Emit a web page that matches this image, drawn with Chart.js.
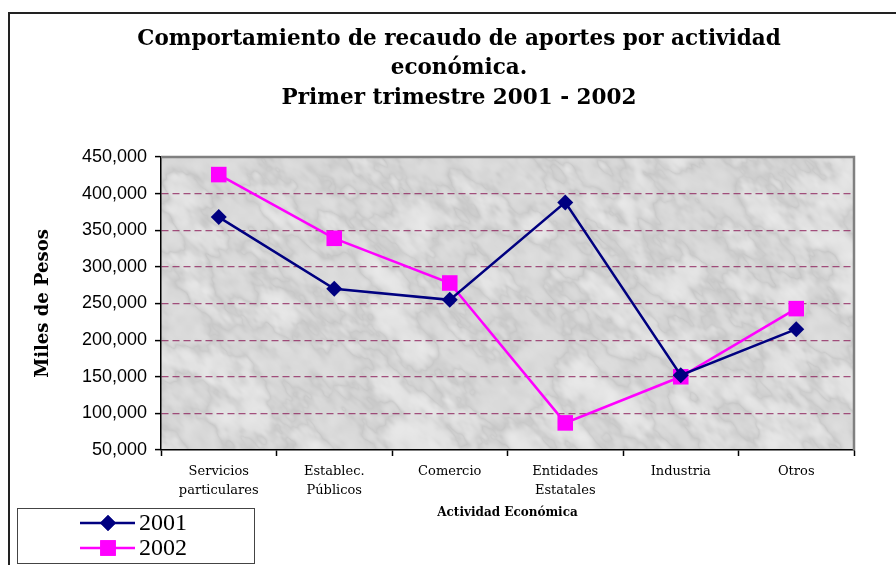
<!DOCTYPE html>
<html>
<head>
<meta charset="utf-8">
<script src="https://cdn.jsdelivr.net/npm/chart.js@4.4.1/dist/chart.umd.min.js"></script>
<style>
  html, body { margin: 0; padding: 0; background: #fff; }
  #wrap { width: 896px; height: 565px; position: relative; }
</style>
</head>
<body>
<div id="wrap"><canvas id="recaudoChart" width="896" height="565"></canvas></div>
<script>
// Datos (miles de pesos)
const actividades = [
  ['Servicios', 'particulares'],
  ['Establec.', 'Públicos'],
  'Comercio',
  ['Entidades', 'Estatales'],
  'Industria',
  'Otros'
];
const recaudo2001 = [368000, 270000, 255000, 388000, 152000, 215000];
const recaudo2002 = [426000, 339000, 278000, 87000, 150000, 243000];
const yMin = 50000;
const yMax = 450000;
const yStep = 50000;

const tituloLineas = [
  'Comportamiento de recaudo de aportes por actividad',
  'económica.',
  'Primer trimestre 2001 - 2002'
];

const ctx = document.getElementById('recaudoChart').getContext('2d');

// textura gris tipo marmol para el area de trazado (solo decorativa, ruido por hash fijo)
function hash(ix, iy) {
  let n = ix * 374761393 + iy * 668265263;
  n = (n ^ (n >>> 13)) * 1274126177;
  n = n ^ (n >>> 16);
  return ((n >>> 0) % 1000) / 1000;
}
function vnoise(x, y) {
  const ix = Math.floor(x), iy = Math.floor(y);
  const fx = x - ix, fy = y - iy;
  const sx = fx * fx * (3 - 2 * fx), sy = fy * fy * (3 - 2 * fy);
  const a = hash(ix, iy), b = hash(ix + 1, iy), c = hash(ix, iy + 1), d = hash(ix + 1, iy + 1);
  return a + (b - a) * sx + (c - a) * sy + (a - b - c + d) * sx * sy;
}
function makeMarble(w, h) {
  const c = document.createElement('canvas');
  c.width = w; c.height = h;
  const g = c.getContext('2d');
  const img = g.createImageData(w, h);
  for (let y = 0; y < h; y++) {
    for (let x = 0; x < w; x++) {
      // coordenadas estiradas en diagonal
      const u = (x + y) * 0.7, v = (x - y) * 1.3;
      let n = 0, amp = 1, f = 1 / 45, tot = 0;
      for (let o = 0; o < 4; o++) {
        n += amp * vnoise(u * f, v * f);
        tot += amp; amp *= 0.55; f *= 2;
      }
      n /= tot;
      const m = vnoise(x / 9 + 50, y / 9 + 50);
      const vein = Math.pow(1 - Math.abs(n - 0.5) * 2, 4);
      let val = 234 - 40 * Math.max(0, 0.5 - n) - 28 * vein - 8 * m;
      val = Math.max(165, Math.min(246, val));
      const i = (y * w + x) * 4;
      img.data[i] = val; img.data[i + 1] = val; img.data[i + 2] = val; img.data[i + 3] = 255;
    }
  }
  g.putImageData(img, 0, 0);
  return c;
}
let marble = null;

const fondoPlugin = {
  id: 'fondo',
  beforeDraw(chart) {
    const { ctx, chartArea: a } = chart;
    ctx.save();
    ctx.fillStyle = '#fff';
    ctx.fillRect(0, 0, chart.width, chart.height);
    // marco exterior del grafico
    ctx.strokeStyle = '#222';
    ctx.lineWidth = 2;
    ctx.beginPath();
    ctx.moveTo(9, 565);
    ctx.lineTo(9, 13);
    ctx.lineTo(896, 13);
    ctx.stroke();
    const w = Math.round(a.right - a.left), h = Math.round(a.bottom - a.top);
    if (!marble || marble.width !== w || marble.height !== h) marble = makeMarble(w, h);
    ctx.drawImage(marble, a.left, a.top);
    ctx.restore();
  },
  beforeDatasetsDraw(chart) {
    const { ctx, chartArea: a } = chart;
    ctx.save();
    ctx.strokeStyle = '#808080';
    ctx.lineWidth = 2.5;
    ctx.beginPath();
    ctx.moveTo(a.left, a.top);
    ctx.lineTo(a.right, a.top);
    ctx.lineTo(a.right, a.bottom);
    ctx.stroke();
    ctx.restore();
  },
  afterDraw(chart) {
    const { ctx } = chart;
    ctx.save();
    // titulo
    ctx.fillStyle = '#000';
    ctx.font = 'bold 21.5px "DejaVu Serif"';
    ctx.textAlign = 'center';
    ctx.textBaseline = 'middle';
    tituloLineas.forEach((t, i) => ctx.fillText(t, 459, 39 + i * 29.5));

    // leyenda
    ctx.strokeStyle = '#444';
    ctx.lineWidth = 1;
    ctx.strokeRect(17.5, 508.5, 237, 55);
    chart.data.datasets.forEach((ds, i) => {
      const y = 523 + i * 25;
      ctx.strokeStyle = ds.borderColor;
      ctx.lineWidth = ds.borderWidth;
      ctx.beginPath();
      ctx.moveTo(80, y);
      ctx.lineTo(135, y);
      ctx.stroke();
      ctx.fillStyle = ds.pointBackgroundColor;
      Chart.helpers.drawPoint(ctx, {
        pointStyle: ds.pointStyle,
        radius: ds.pointRadius,
        borderWidth: 0,
        rotation: 0
      }, 108, y);
      ctx.fill();
      ctx.fillStyle = '#000';
      ctx.font = '24px "Liberation Serif"';
      ctx.textAlign = 'left';
      ctx.fillText(ds.label, 139, y + 1);
    });
    ctx.restore();
  }
};

const chart = new Chart(ctx, {
  type: 'line',
  data: {
    labels: actividades,
    datasets: [{
      label: '2001',
      data: recaudo2001,
      borderColor: '#000080',
      backgroundColor: '#000080',
      pointBackgroundColor: '#000080',
      pointBorderColor: '#000080',
      borderWidth: 2.5,
      pointStyle: 'rectRot',
      pointRadius: 8,
      pointBorderWidth: 0,
      tension: 0
    }, {
      label: '2002',
      data: recaudo2002,
      borderColor: '#ff00ff',
      backgroundColor: '#ff00ff',
      pointBackgroundColor: '#ff00ff',
      pointBorderColor: '#ff00ff',
      borderWidth: 2.5,
      pointStyle: 'rect',
      pointRadius: 11,
      pointBorderWidth: 0,
      tension: 0
    }]
  },
  options: {
    responsive: false,
    animation: false,
    layout: { padding: { top: 157, right: 42, bottom: 0, left: 0 } },
    plugins: {
      legend: { display: false },
      title: { display: false },
      tooltip: { enabled: false }
    },
    scales: {
      x: {
        offset: true,
        afterFit(scale) { scale.height = 115; },
        grid: {
          offset: true,
          drawOnChartArea: false,
          tickLength: 6,
          tickColor: '#000',
          tickWidth: 1.5
        },
        border: { color: '#000', width: 1.5 },
        ticks: {
          color: '#000',
          padding: 6,
          maxRotation: 0,
          font: { family: '"DejaVu Serif"', size: 13, lineHeight: 1.45 }
        },
        title: {
          display: true,
          text: 'Actividad Económica',
          color: '#000',
          font: { family: '"DejaVu Serif"', size: 12, weight: 'bold', lineHeight: 1.2 },
          padding: { top: 0, bottom: 45 }
        }
      },
      y: {
        min: yMin,
        max: yMax,
        afterFit(scale) { scale.width = 161; },
        grid: {
          color: (c) => (c.tick && (c.tick.value === yMin || c.tick.value === yMax)) ? 'rgba(0,0,0,0)' : 'rgba(140,30,90,0.75)',
          lineWidth: 1.2,
          tickLength: 6,
          tickColor: '#000',
          tickWidth: 1.5,
          tickBorderDash: []
        },
        border: { color: '#000', width: 1.5, dash: [7, 4] },
        ticks: {
          stepSize: yStep,
          color: '#000',
          padding: 8,
          font: { family: '"Liberation Sans"', size: 18 },
          callback: (v) => v.toLocaleString('en-US')
        },
        title: {
          display: true,
          text: 'Miles de Pesos',
          color: '#000',
          font: { family: '"DejaVu Serif"', size: 18, weight: 'bold', lineHeight: 1.2 },
          padding: { top: 33, bottom: 0 }
        }
      }
    }
  },
  plugins: [fondoPlugin]
});
</script>
</body>
</html>
